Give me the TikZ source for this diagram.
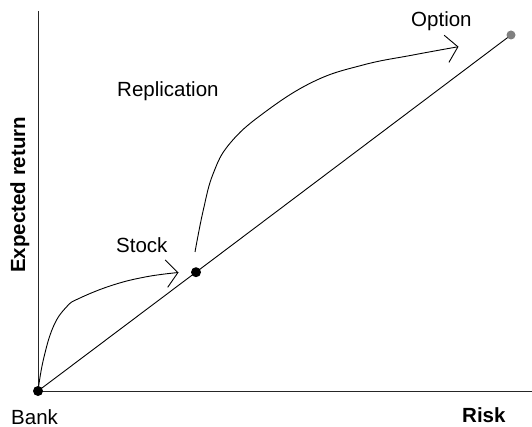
\documentclass[tikz,border=0pt]{standalone}
\usepackage{fontspec}
\setmainfont{Liberation Sans}
\usetikzlibrary{arrows.meta}
\begin{document}
\begin{tikzpicture}[x=1pt,y=-1pt,
  lbl/.style={inner sep=0pt,anchor=base west,font=\fontsize{20.5}{24}\selectfont},
  blbl/.style={lbl,font=\fontsize{20.5}{24}\selectfont\bfseries},
  axis/.style={line width=1pt,draw=black!85},
  conn/.style={line width=0.9pt,-{Straight Barb[angle=100:18pt,line width=0.9pt]}},
  dotb/.style={circle,fill=black,inner sep=0pt,minimum size=10pt},
  dotg/.style={circle,fill=black!50,inner sep=0pt,minimum size=9pt}]
\useasboundingbox (0,0) rectangle (532,427);
% axes
\coordinate (ytop) at (38,11);
\coordinate (xend) at (532,391.5);
\coordinate (orig) at (38,391.5);
\draw[axis] (ytop) -- (orig) -- (xend);
% points
\coordinate (pb) at (38,391);
\coordinate (ps) at (196,272.2);
\coordinate (po) at (511,35);
\draw[line width=0.9pt] (pb) -- (ps) -- (po);
\node[dotb] (bank) at (pb) {};
\node[dotb] (stock) at (ps) {};
\node[dotg] (option) at (po) {};
% curves
\coordinate (c1e) at (178.5,272.5);
\coordinate (c2s) at (195,252);
\coordinate (c2e) at (458.5,46.7);
\draw[conn] plot[smooth,tension=0.7] coordinates {(bank.center) (43.3,360) (53.3,326.7) (66.7,306.7) (80,298) (113,285) (146.7,276.7) (c1e)};
\draw[conn] plot[smooth,tension=0.7] coordinates {(c2s) (203.3,210) (213.3,173.3) (230,143.3) (263.3,113.3) (313.3,81.7) (363,65) (413,55) (c2e)};
% labels
\node[lbl] (lrep) at (117,97) {Replication};
\node[lbl] (lopt) at (411,27) {Option};
\node[lbl] (lstock) at (116,253) {Stock};
\node[lbl] (lbank) at (11,424) {Bank};
\node[blbl] (lrisk) at (462,422) {Risk};
\node[blbl,rotate=90] (lexp) at (25,273) {Expected return};
\end{tikzpicture}
\end{document}
